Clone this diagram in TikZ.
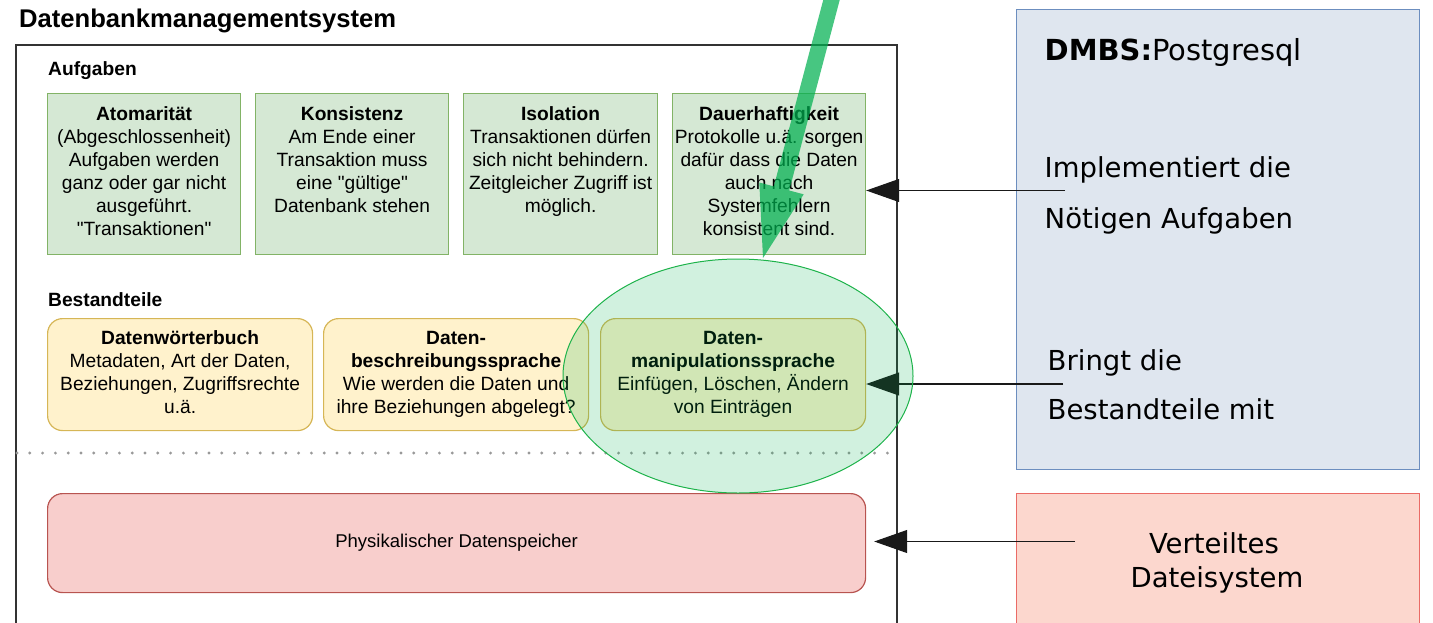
\documentclass[tikz,border=0pt]{standalone}
\usepackage{fontspec}
\setmainfont{Liberation Sans}[Ligatures=TeXOff]
\newfontfamily\dejavu{DejaVu Sans}
\usetikzlibrary{shapes.geometric,arrows.meta,calc}
\definecolor{gfill}{HTML}{D5E8D4}
\definecolor{gline}{HTML}{82B366}
\definecolor{yfill}{HTML}{FFF2CC}
\definecolor{yline}{HTML}{D6B656}
\definecolor{rfill}{HTML}{F8CECC}
\definecolor{rline}{HTML}{B85450}
\definecolor{bfill}{HTML}{DFE6EF}
\definecolor{bline}{HTML}{6C8EBF}
\definecolor{sfill}{HTML}{FCD7CE}
\definecolor{sline}{HTML}{EA6B66}
\definecolor{egreen}{HTML}{00B050}
\definecolor{estroke}{HTML}{1DB34A}
\definecolor{dotgray}{HTML}{999999}
\begin{document}
\begin{tikzpicture}[x=1pt,y=-1pt,
  gbox/.style={draw=gline, fill=gfill, line width=1.2pt, inner sep=0pt, anchor=north west,
    font=\fontsize{19.2}{23}\selectfont},
  ybox/.style={draw=yline, fill=yfill, line width=1.2pt, rounded corners=15pt, inner sep=0pt,
    anchor=north west, font=\fontsize{19.2}{23}\selectfont},
  lbl/.style={anchor=base west, inner sep=0pt, font=\bfseries\fontsize{19.2}{23}\selectfont},
  side/.style={anchor=base west, inner sep=0pt, font=\dejavu\fontsize{27.5}{32}\selectfont},
  conn/.style={draw=black!90, line width=1.1pt, -{Triangle[length=33pt,width=23pt]}}
]
\useasboundingbox (0,0) rectangle (1433,622);

% container
\node[draw=black!80, line width=1.6pt, anchor=north west, inner sep=0pt,
      minimum width=881pt, minimum height=620pt] (outer) at (15,44) {};
\node[anchor=base west, inner sep=0pt, font=\bfseries\fontsize{25.6}{30}\selectfont]
      (title) at (19,27) {Datenbankmanagementsystem};
\node[lbl] (aufg) at (48,75) {Aufgaben};
\node[lbl] (best) at (48,306) {Bestandteile};

% Aufgaben
\node[gbox] (g1) at (47,93) {\parbox[c][161pt][t]{193pt}{\centering\rule{0pt}{27pt}\textbf{Atomarität}\\(Abgeschlossenheit)\\Aufgaben werden\\ganz oder gar nicht\\ausgeführt.\\"Transaktionen"}};
\node[gbox] (g2) at (255,93) {\parbox[c][161pt][t]{193pt}{\centering\rule{0pt}{27pt}\textbf{Konsistenz}\\Am Ende einer\\Transaktion muss\\eine "gültige"\\Datenbank stehen}};
\node[gbox] (g3) at (463,93) {\parbox[c][161pt][t]{194pt}{\centering\rule{0pt}{27pt}\textbf{Isolation}\\Transaktionen dürfen\\sich nicht behindern.\\Zeitgleicher Zugriff ist\\möglich.}};
\node[gbox] (g4) at (672,93) {\parbox[c][161pt][t]{193pt}{\centering\rule{0pt}{27pt}\textbf{Dauerhaftigkeit}\\Protokolle u.ä. sorgen\\dafür dass die Daten\\auch nach\\Systemfehlern\\konsistent sind.}};

% Bestandteile
\node[ybox] (y1) at (47,318) {\parbox[c][112pt][c]{265pt}{\centering\strut\textbf{Datenwörterbuch}\\Metadaten, Art der Daten,\\Beziehungen, Zugriffsrechte\\u.ä.\strut}};
\node[ybox] (y2) at (323,318) {\parbox[c][112pt][c]{265pt}{\centering\strut\textbf{Daten-}\\\textbf{beschreibungssprache}\\Wie werden die Daten und\\ihre Beziehungen abgelegt?\strut}};
\node[ybox] (y3) at (600,318) {\parbox[c][112pt][c]{265pt}{\centering\strut\textbf{Daten-}\\\textbf{manipulationssprache}\\Einfügen, Löschen, Ändern\\von Einträgen\strut}};

% separator
\draw[dotgray, line width=3.2pt, line cap=round, dash pattern=on 0pt off 12.8pt] (17,453) -- (893,453);

% physical storage
\node[draw=rline, fill=rfill, line width=1.2pt, rounded corners=15pt, anchor=north west,
      inner sep=0pt, minimum width=818pt, minimum height=99pt,
      font=\fontsize{18.5}{22}\selectfont] (phys) at (47,493) {Physikalischer Datenspeicher};

% right side
\node[draw=bline, fill=bfill, line width=1pt, anchor=north west, inner sep=0pt,
      minimum width=403pt, minimum height=460pt] (pg) at (1016,9) {};
\node[draw=sline, fill=sfill, line width=1pt, anchor=north west, inner sep=0pt,
      minimum width=403pt, minimum height=160pt] (vfs) at (1016,493) {};
\node[side, font=\dejavu\fontsize{29}{34}\selectfont] (dmbs) at (1044.5,60) {\textbf{DMBS:}Postgresql};
\node[side] (impl) at (1044.5,177) {Implementiert die};
\node[side] (noet) at (1044.5,228) {Nötigen Aufgaben};
\node[side] (bring) at (1047.5,370) {Bringt die};
\node[side] (bestm) at (1047.5,419) {Bestandteile mit};
\node[side, anchor=base] (vert) at (1214,553) {Verteiltes};
\node[side, anchor=base] (datei) at (1217,587) {Dateisystem};

% connectors
\coordinate (cA) at (1065,190.5);
\coordinate (cB) at (1063,384);
\coordinate (cC) at (1075,541.5);
\draw[conn] (cA) -- (cA -| g4.east);
\draw[conn] (cB) -- (cB -| y3.east);
\draw[conn, shorten >=8pt] (cC) -- (cC -| phys.east);

% highlight ellipse
\node[ellipse, draw=estroke, fill=egreen, fill opacity=0.18, line width=1pt, inner sep=0pt,
      minimum width=350pt, minimum height=234pt] (ell) at (738,376) {};

% big green arrow
\fill[egreen, opacity=0.72] (844.3,-17.3) -- (789.2,190.5) -- (803.7,194.3) -- (763,258)
  -- (759.3,182.5) -- (773.8,186.4) -- (828.9,-21.4) -- cycle;
\end{tikzpicture}
\end{document}
